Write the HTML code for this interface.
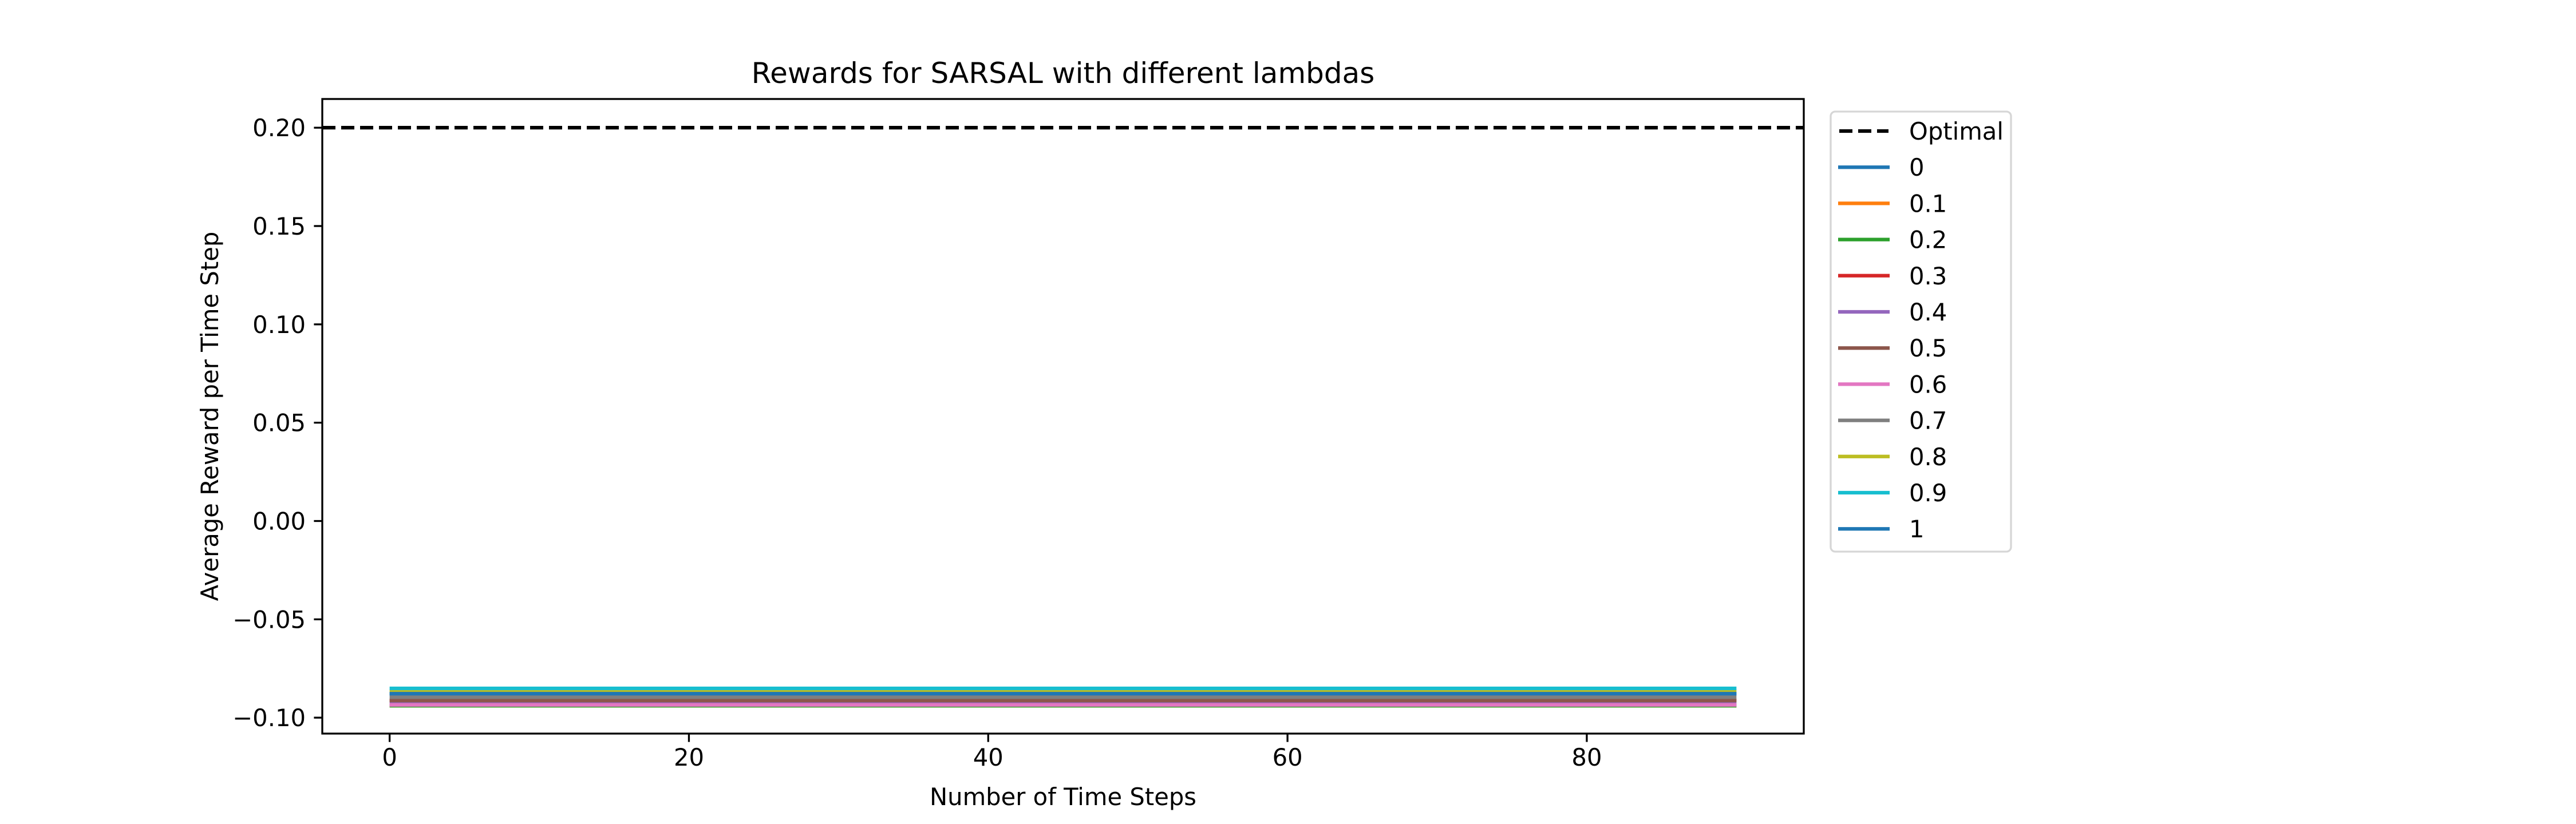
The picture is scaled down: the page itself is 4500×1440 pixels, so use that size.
<!DOCTYPE html>
<html><head><meta charset="utf-8"><style>
html,body{margin:0;padding:0;background:#fff;}
svg{display:block;font-family:"DejaVu Sans","Liberation Sans",sans-serif;}
</style></head><body>
<svg id="chart" width="4500" height="1440" viewBox="0 0 4500 1440" xmlns="http://www.w3.org/2000/svg"></svg>
<script>
const lambdas = ["0","0.1","0.2","0.3","0.4","0.5","0.6","0.7","0.8","0.9","1"];
const colors = ["#1f77b4","#ff7f0e","#2ca02c","#d62728","#9467bd","#8c564b","#e377c2","#7f7f7f","#bcbd22","#17becf","#1f77b4"];
const xRange = [0, 90];
const levels = [-0.0878,-0.0939,-0.0939,-0.0913,-0.0928,-0.0913,-0.0935,-0.0896,-0.0865,-0.0851,-0.0878];
const optimal = 0.20;
const xTicks = [0,20,40,60,80];
const yTicks = [0.20,0.15,0.10,0.05,0.00,-0.05,-0.10];
const yTickLabels = ["0.20","0.15","0.10","0.05","0.00","\u22120.05","\u22120.10"];

const NS="http://www.w3.org/2000/svg";
const svg=document.getElementById('chart');
const L=563,R=3151,T=173,B=1282;
const xmin=-4.5,xmax=94.5,ymin=-0.1081,ymax=0.2146;
function sx(v){return L+(v-xmin)/(xmax-xmin)*(R-L);}
function sy(v){return B-(v-ymin)/(ymax-ymin)*(B-T);}
function mk(tag,attrs,parent){const e=document.createElementNS(NS,tag);for(const k in attrs)e.setAttribute(k,attrs[k]);(parent||svg).appendChild(e);return e;}

let e=mk('line',{x1:L,x2:R,y1:sy(optimal),y2:sy(optimal),stroke:'#000','stroke-width':6.25,'stroke-dasharray':'23 10'});


for(let i=0;i<lambdas.length;i++){
  const l=mk('line',{x1:sx(xRange[0]),x2:sx(xRange[1]),y1:sy(levels[i]),y2:sy(levels[i]),stroke:colors[i],'stroke-width':6.25});
  
  
}
e=mk('rect',{x:L,y:T,width:R-L,height:B-T,fill:'none',stroke:'#000','stroke-width':3.3});


xTicks.forEach(t=>{
  mk('line',{x1:sx(t),x2:sx(t),y1:B,y2:B+14.6,stroke:'#000','stroke-width':3.3});
  const tx=mk('text',{x:sx(t),y:B+56,'font-size':41.7,'text-anchor':'middle'});tx.textContent=t;
  
  
});
yTicks.forEach((t,i)=>{
  mk('line',{x1:L-14.6,x2:L,y1:sy(t),y2:sy(t),stroke:'#000','stroke-width':3.3});
  const tx=mk('text',{x:L-29,y:sy(t)+15,'font-size':41.7,'text-anchor':'end'});tx.textContent=yTickLabels[i];
  
  
});
e=mk('text',{x:(L+R)/2,y:145,'font-size':50,'text-anchor':'middle'});e.textContent='Rewards for SARSAL with different lambdas';


e=mk('text',{x:(L+R)/2,y:1407,'font-size':41.7,'text-anchor':'middle'});e.textContent='Number of Time Steps';


e=mk('text',{x:0,y:0,'font-size':41.7,'text-anchor':'middle',transform:'translate(381,'+((T+B)/2)+') rotate(-90)'});e.textContent='Average Reward per Time Step';


const lg=mk('g',{});


mk('rect',{x:3198,y:195,width:315,height:769,rx:8,fill:'#fff',stroke:'#d6d6d6','stroke-width':3.3},lg);
const labels=['Optimal'].concat(lambdas);
labels.forEach((lab,i)=>{
  const y=229+i*63.2;
  const g=mk('g',{},lg);
  
  
  if(i===0) mk('line',{x1:3213,x2:3299,y1:y,y2:y,stroke:'#000','stroke-width':6.25,'stroke-dasharray':'23 10'},g);
  else mk('line',{x1:3211,x2:3301,y1:y,y2:y,stroke:colors[i-1],'stroke-width':6.25},g);
  const t=mk('text',{x:3335,y:y+15,'font-size':41.7},g);t.textContent=lab;
});
</script>
</body></html>
